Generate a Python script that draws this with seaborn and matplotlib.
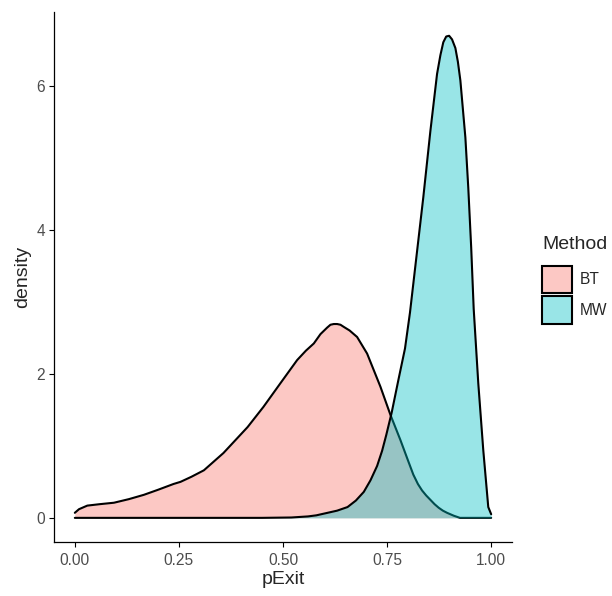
import matplotlib.pyplot as plt
import matplotlib.colors as mcolors
import pandas as pd
import seaborn as sns
from matplotlib.patches import Patch

# density curves (x = pExit, y = density)
bt_x = [0.000, 0.010, 0.030, 0.060, 0.094, 0.130, 0.166, 0.200, 0.237, 0.254,
        0.280, 0.310, 0.357, 0.415, 0.453, 0.494, 0.534, 0.555, 0.574, 0.590,
        0.606, 0.614, 0.622, 0.630, 0.638, 0.646, 0.660, 0.678, 0.702, 0.734,
        0.758, 0.782, 0.800, 0.813, 0.824, 0.834, 0.844, 0.854, 0.864, 0.874,
        0.884, 0.894, 0.910, 0.925, 1.000]
bt_y = [0.07, 0.12, 0.17, 0.19, 0.21, 0.26, 0.32, 0.39, 0.47, 0.50,
        0.57, 0.66, 0.90, 1.26, 1.54, 1.87, 2.19, 2.32, 2.42, 2.55,
        2.64, 2.68, 2.69, 2.69, 2.68, 2.65, 2.60, 2.51, 2.28, 1.82,
        1.43, 1.08, 0.80, 0.60, 0.47, 0.38, 0.31, 0.25, 0.19, 0.14,
        0.10, 0.07, 0.03, 0.00, 0.00]

mw_x = [0.000, 0.450, 0.520, 0.560, 0.580, 0.607, 0.630, 0.655, 0.675, 0.694,
        0.710, 0.726, 0.738, 0.748, 0.761, 0.777, 0.793, 0.805, 0.813, 0.825,
        0.837, 0.854, 0.870, 0.878, 0.885, 0.892, 0.899, 0.906, 0.914, 0.920,
        0.926, 0.938, 0.945, 0.952, 0.958, 0.969, 0.981, 0.993, 1.000]
mw_y = [0.00, 0.00, 0.005, 0.02, 0.035, 0.07, 0.10, 0.15, 0.24, 0.36,
        0.52, 0.72, 0.93, 1.15, 1.46, 1.91, 2.35, 2.85, 3.25, 3.85,
        4.45, 5.37, 6.16, 6.42, 6.60, 6.68, 6.69, 6.64, 6.52, 6.33,
        6.07, 5.28, 4.58, 3.75, 2.90, 1.87, 0.94, 0.15, 0.05]

methods = ["BT", "MW"]
colors = {"BT": "#F8766D", "MW": "#00BFC4"}

df = pd.concat([
    pd.DataFrame({"pExit": bt_x, "density": bt_y, "Method": "BT"}),
    pd.DataFrame({"pExit": mw_x, "density": mw_y, "Method": "MW"}),
])

sns.set_theme(style="ticks")
plt.rcParams["font.family"] = ["Liberation Sans", "DejaVu Sans"]

fig = plt.figure(figsize=(6.12, 5.96), dpi=100)
ax = fig.add_axes([54 / 612, 54 / 596, 458 / 612, 530 / 596])

# each group: fill then outline, later group on top
for i, m in enumerate(methods):
    d = df[df["Method"] == m]
    ax.fill_between(d["pExit"], 0, d["density"], color=colors[m], alpha=0.4,
                    lw=0, zorder=2 * i + 1)
    sns.lineplot(data=d, x="pExit", y="density", color="black", lw=1.5,
                 ax=ax, sort=False, estimator=None, zorder=2 * i + 2)

ax.set_xlim(-0.05, 1.05)
ax.set_ylim(-0.335, 7.02)
ax.set_xticks([0, 0.25, 0.5, 0.75, 1.0])
ax.set_xticklabels(["0.00", "0.25", "0.50", "0.75", "1.00"])
ax.set_yticks([0, 2, 4, 6])
ax.tick_params(labelcolor="#4D4D4D", labelsize=11.2, length=3.5, width=0.8,
               color="black")
ax.tick_params(axis="x", pad=4.5)
ax.tick_params(axis="y", pad=3)
for s in ["left", "bottom"]:
    ax.spines[s].set_linewidth(0.9)
    ax.spines[s].set_color("black")
sns.despine(ax=ax)
ax.set_xlabel("pExit", fontsize=14, labelpad=2)
ax.set_ylabel("density", fontsize=14, labelpad=4)

handles = [Patch(facecolor=(*mcolors.to_rgb(colors[m]), 0.4),
                 edgecolor="black", lw=1.5, label=m) for m in methods]
leg = ax.legend(handles=handles, title="Method", loc="upper left",
                bbox_to_anchor=(542 / 612, 1 - 236 / 596),
                bbox_transform=fig.transFigure, frameon=False,
                fontsize=11.2, title_fontsize=14, handlelength=1.9,
                handleheight=2.3, labelspacing=0.25, handletextpad=0.5,
                borderpad=0, borderaxespad=0, alignment="left")
# a bit more room between title and keys, as in ggplot
leg._legend_box.sep = 9

fig.savefig("out.png", dpi=100)
